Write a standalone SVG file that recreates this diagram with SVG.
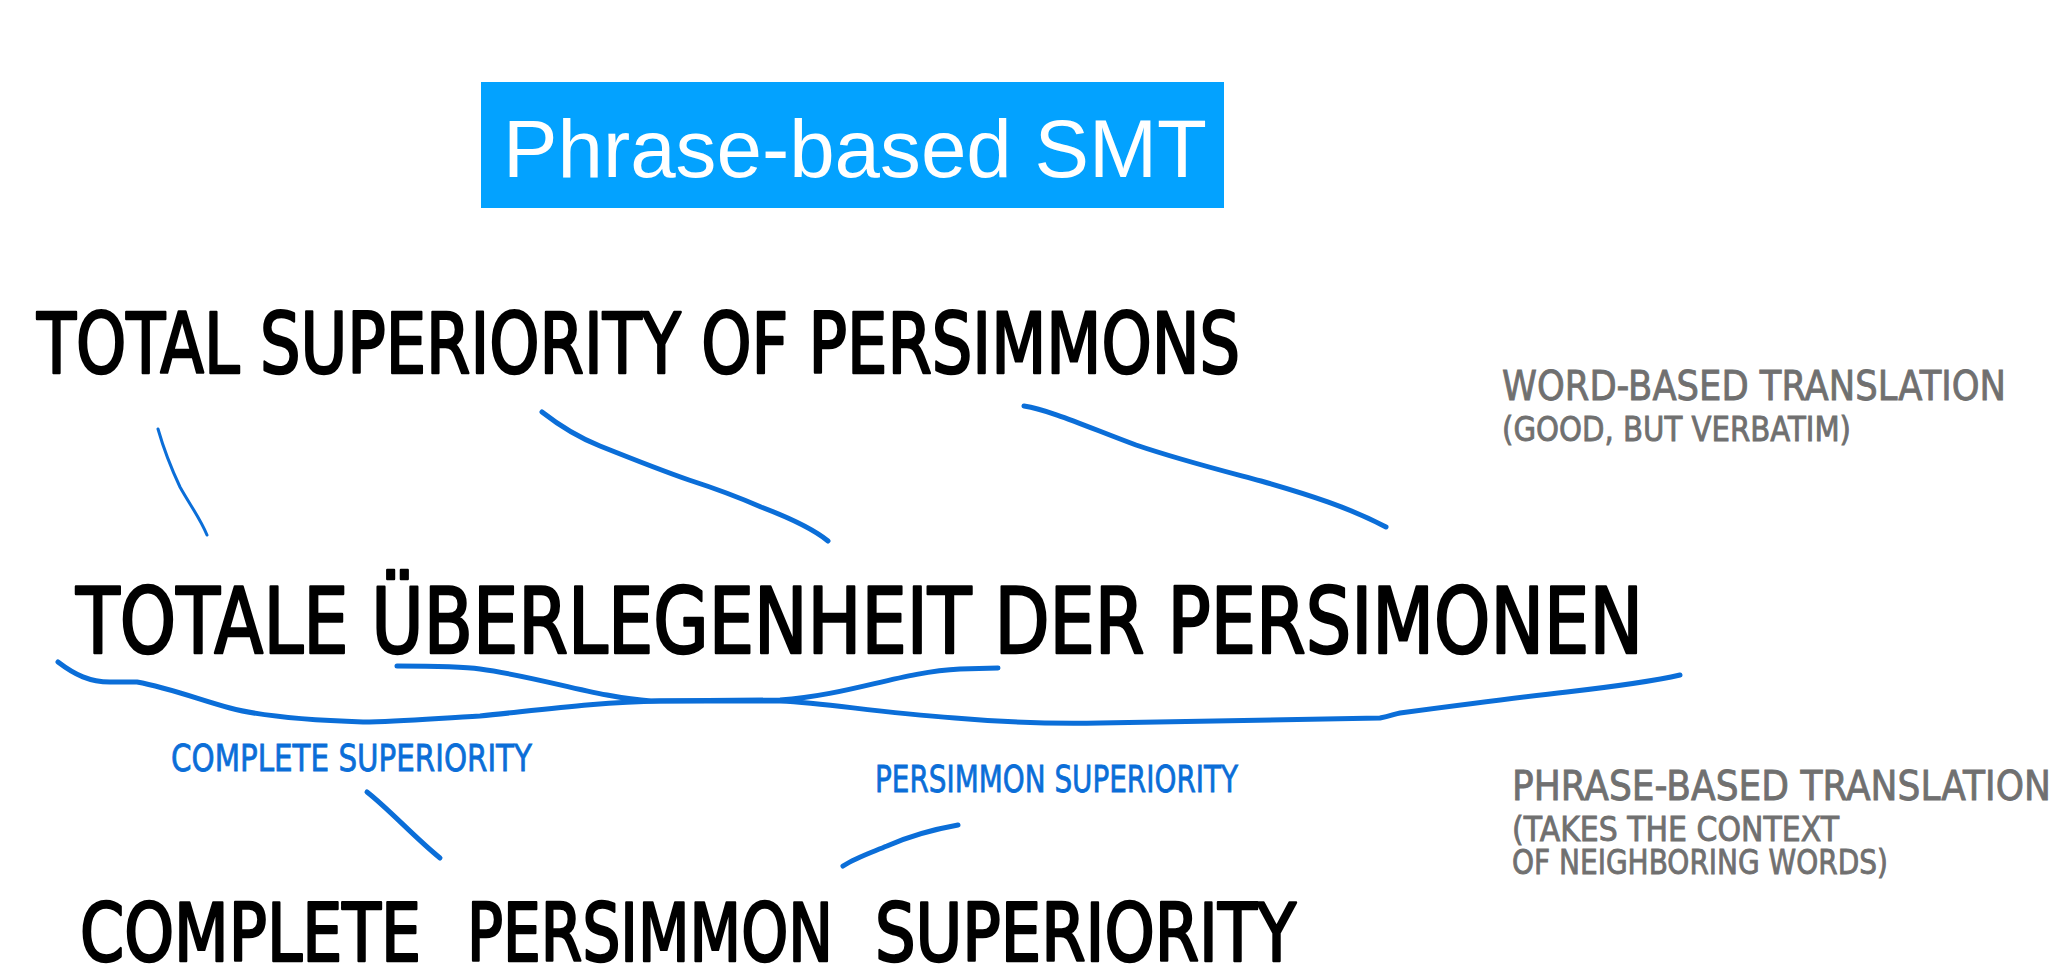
<svg xmlns="http://www.w3.org/2000/svg" width="2060" height="967" viewBox="0 0 2060 967">
  <style>
    .hand { font-family: "DejaVu Sans", "Liberation Sans", sans-serif; }
    .big { fill: #000; stroke: #000; stroke-width: 2.6; stroke-linejoin: round; }
    .note { fill: #707070; stroke: #707070; stroke-width: 0.9; }
    .gloss { fill: #0b6ed8; stroke: #0b6ed8; stroke-width: 0.8; }
    .link { fill: none; stroke: #0b6ed8; stroke-linecap: round; stroke-linejoin: round; }
    .title { font-family: "Liberation Sans", Arial, sans-serif; fill: #fff; }
  </style>
  <rect width="2060" height="967" fill="#fff"/>

  <g id="title">
    <rect x="481" y="82" width="743" height="126" fill="#03a2ff"/>
    <text class="title" x="503" y="177" font-size="81" textLength="704" lengthAdjust="spacingAndGlyphs">Phrase-based SMT</text>
  </g>

  <g id="source-en">
    <text class="hand big" x="37" y="373" font-size="84" textLength="1203" lengthAdjust="spacingAndGlyphs">TOTAL SUPERIORITY OF PERSIMMONS</text>
  </g>

  <g id="target-de">
    <text class="hand big" x="76" y="653" font-size="90" textLength="1567" lengthAdjust="spacingAndGlyphs">TOTALE ÜBERLEGENHEIT DER PERSIMONEN</text>
  </g>

  <g id="back-translation">
    <text class="hand big" x="80" y="961" font-size="80" textLength="341" lengthAdjust="spacingAndGlyphs">COMPLETE</text>
    <text class="hand big" x="467" y="961" font-size="80" textLength="366" lengthAdjust="spacingAndGlyphs">PERSIMMON</text>
    <text class="hand big" x="875" y="961" font-size="80" textLength="421" lengthAdjust="spacingAndGlyphs">SUPERIORITY</text>
  </g>

  <g id="word-based-note">
    <text class="hand note" x="1502" y="400" font-size="41" textLength="504" lengthAdjust="spacingAndGlyphs">WORD-BASED TRANSLATION</text>
    <text class="hand note" x="1502" y="441" font-size="34" textLength="349" lengthAdjust="spacingAndGlyphs">(GOOD, BUT VERBATIM)</text>
  </g>

  <g id="phrase-based-note">
    <text class="hand note" x="1512" y="800" font-size="41" textLength="539" lengthAdjust="spacingAndGlyphs">PHRASE-BASED TRANSLATION</text>
    <text class="hand note" x="1512" y="841" font-size="34" textLength="327" lengthAdjust="spacingAndGlyphs">(TAKES THE CONTEXT</text>
    <text class="hand note" x="1512" y="874" font-size="34" textLength="376" lengthAdjust="spacingAndGlyphs">OF NEIGHBORING WORDS)</text>
  </g>

  <g id="gloss-complete">
    <text class="hand gloss" x="171" y="771" font-size="37" textLength="361" lengthAdjust="spacingAndGlyphs">COMPLETE SUPERIORITY</text>
  </g>

  <g id="gloss-persimmon">
    <text class="hand gloss" x="875" y="792" font-size="37" textLength="363" lengthAdjust="spacingAndGlyphs">PERSIMMON SUPERIORITY</text>
  </g>

  <g id="connectors">
    <!-- word alignments -->
    <path class="link" stroke-width="3" d="M158,429 C164,450 172,470 180,487 C190,505 200,518 207,535"/>
    <path class="link" stroke-width="5" d="M542,412 C565,430 585,440 600,446 C630,458 660,470 689,480 C720,490 745,500 761,507 C790,518 812,528 828,541"/>
    <path class="link" stroke-width="5" d="M1024,406 C1050,410 1090,428 1136,445 C1180,460 1220,470 1261,481 C1310,495 1350,508 1386,527"/>
    <!-- phrase spans -->
    <path class="link" stroke-width="5" d="M58,662 C75,675 90,682 110,682 L137,682 C170,688 200,700 230,708 C260,716 300,720 363,722 C400,722 440,718 480,716 C540,710 600,702 660,701 L780,701 C830,703 870,712 955,718 C1000,722 1050,724 1100,723 L1380,718 C1390,716 1395,714 1400,713 C1460,705 1520,697 1567,692 C1610,687 1650,682 1680,675"/>
    <path class="link" stroke-width="5" d="M397,666 C430,666 460,666 480,669 C540,677 600,698 651,701 L780,700 C850,695 900,672 960,669 L998,668"/>
    <!-- gloss pointers -->
    <path class="link" stroke-width="5" d="M367,792 C390,810 415,838 440,858"/>
    <path class="link" stroke-width="5" d="M958,825 C930,830 905,838 887,846 C870,853 855,858 843,866"/>
  </g>
</svg>
